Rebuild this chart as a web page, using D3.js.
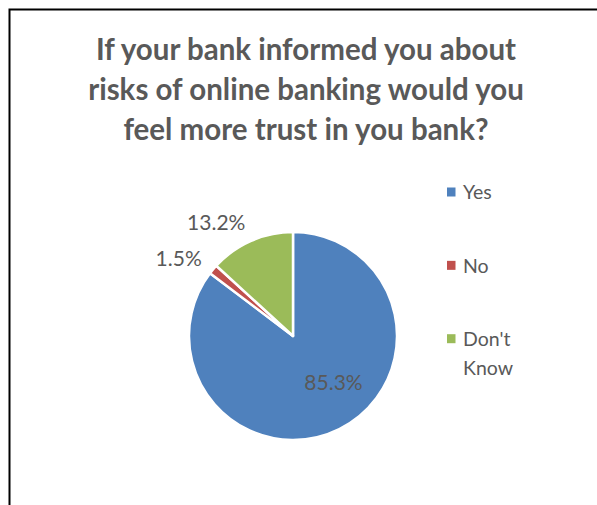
<!DOCTYPE html>
<html>
<head>
<meta charset="utf-8">
<script src="https://cdn.jsdelivr.net/npm/d3@7"></script>
<style>
  html, body { margin: 0; padding: 0; background: #fff; }
  svg { display: block; }
</style>
</head>
<body>
<script>
// Survey answers and their shares (percent)
const categories = ["Yes", "No", "Don't Know"];
const values = [85.3, 1.5, 13.2];
const colors = ["#4F81BD", "#C0504D", "#9BBB59"];
const titleLines = [
  "If your bank informed you about",
  "risks of online banking would you",
  "feel more trust in you bank?"
];
const legendLines = [["Yes"], ["No"], ["Don't", "Know"]];

const W = 597, H = 505;
const font = "Lato, 'Open Sans', sans-serif";
const textColor = "#595959";

const svg = d3.select("body").append("svg")
  .attr("width", W).attr("height", H);

svg.append("rect").attr("width", W).attr("height", H).attr("fill", "#fff");

// chart frame
svg.append("rect")
  .attr("x", 9.5).attr("y", 9.5)
  .attr("width", W + 10).attr("height", H + 10)
  .attr("fill", "none").attr("stroke", "#000").attr("stroke-width", 2);

// title
svg.append("g").selectAll("text")
  .data(titleLines).join("text")
  .attr("x", 306)
  .attr("y", (d, i) => 59.5 + i * 40)
  .attr("text-anchor", "middle")
  .attr("font-family", font)
  .attr("font-weight", "bold")
  .attr("font-size", 29.5)
  .attr("fill", textColor)
  .text(d => d);

// pie
const cx = 293, cy = 336, R = 104;
const pie = d3.pie().sort(null).value(d => d)(values);
const arc = d3.arc().innerRadius(0).outerRadius(R);

const g = svg.append("g").attr("transform", `translate(${cx},${cy})`);
g.selectAll("path")
  .data(pie).join("path")
  .attr("d", arc)
  .attr("fill", (d, i) => colors[i])
  .attr("stroke", "#fff")
  .attr("stroke-width", 2.5)
  .attr("stroke-linejoin", "round");

// data labels: large slice inside, small slices outside
const labelPlace = [
  { r: 62, turn: -0.25 },
  { r: 138, turn: -0.1 },
  { r: 137, turn: -0.18 }
];
g.selectAll("text")
  .data(pie).join("text")
  .attr("transform", (d, i) => {
    const a = (d.startAngle + d.endAngle) / 2 + labelPlace[i].turn;
    const r = labelPlace[i].r;
    return `translate(${Math.sin(a) * r},${-Math.cos(a) * r})`;
  })
  .attr("text-anchor", "middle")
  .attr("dy", "0.35em")
  .attr("font-family", font)
  .attr("font-size", 21)
  .attr("fill", textColor)
  .text(d => d.data.toFixed(1) + "%");

// legend
const legend = svg.append("g");
const rowY = d3.scalePoint().domain(categories).range([192, 338.7]);
categories.forEach((c, i) => {
  const y = rowY(c);
  legend.append("rect")
    .attr("x", 447).attr("y", y - 4.5)
    .attr("width", 8.5).attr("height", 9)
    .attr("fill", colors[i]);
  legendLines[i].forEach((t, j) => {
    legend.append("text")
      .attr("x", 463).attr("y", y + 7.3 + j * 28.5)
      .attr("font-family", font)
      .attr("font-size", 19.5)
      .attr("fill", textColor)
      .text(t);
  });
});
</script>
</body>
</html>
